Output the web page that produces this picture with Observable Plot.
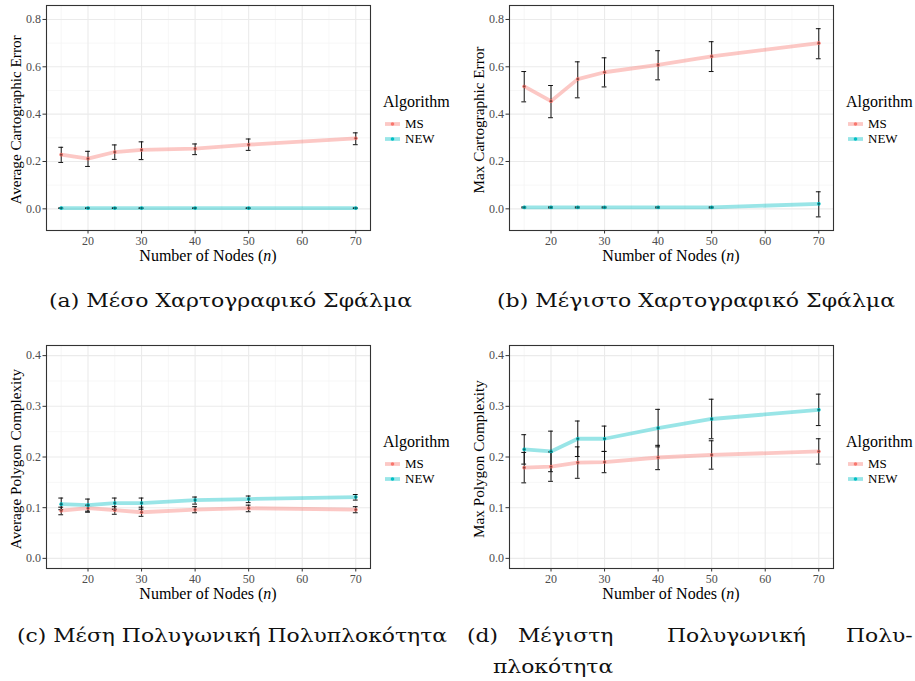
<!DOCTYPE html>
<html><head><meta charset="utf-8">
<script src="https://cdn.jsdelivr.net/npm/d3@7"></script>
<script src="https://cdn.jsdelivr.net/npm/@observablehq/plot@0.6"></script>
<style>
body{margin:0;background:#fff;}
#root{position:relative;width:915px;height:681px;overflow:hidden;}
.abs{position:absolute;white-space:nowrap;}
.cap{font-family:"DejaVu Serif",serif;font-size:18px;line-height:22px;color:#111;transform-origin:0 50%;}
.ttl{font-family:"Liberation Serif",serif;line-height:18px;color:#000;}
.lg{font-family:"Liberation Serif",serif;color:#000;}
svg{overflow:visible;}
</style></head><body><div id="root"></div><script>
// ---- data ----
const nodes = [15, 20, 25, 30, 40, 50, 70];
const algorithms = ["MS", "NEW"];
const algColors = ["#F8766D", "#00BFC4"];
const xTicks = [20, 30, 40, 50, 60, 70];
const xMinor = [15, 25, 35, 45, 55, 65];

// (a) Average Cartographic Error
const aMS    = [0.229, 0.212, 0.240, 0.249, 0.254, 0.271, 0.298];
const aMSlo  = [0.196, 0.179, 0.209, 0.208, 0.229, 0.247, 0.271];
const aMShi  = [0.260, 0.243, 0.270, 0.283, 0.274, 0.295, 0.321];
const aNEW   = [0.003, 0.003, 0.003, 0.003, 0.003, 0.003, 0.003];
const aNEWlo = [0.002, 0.002, 0.002, 0.002, 0.002, 0.002, 0.002];
const aNEWhi = [0.004, 0.004, 0.004, 0.004, 0.004, 0.004, 0.004];
// (b) Max Cartographic Error
const bMS    = [0.517, 0.455, 0.548, 0.577, 0.608, 0.644, 0.700];
const bMSlo  = [0.452, 0.385, 0.469, 0.515, 0.545, 0.580, 0.634];
const bMShi  = [0.580, 0.521, 0.621, 0.638, 0.668, 0.706, 0.761];
const bNEW   = [0.006, 0.006, 0.006, 0.006, 0.006, 0.006, 0.021];
const bNEWlo = [0.004, 0.004, 0.004, 0.004, 0.004, 0.004, -0.034];
const bNEWhi = [0.008, 0.008, 0.008, 0.008, 0.008, 0.008, 0.072];
// (c) Average Polygon Complexity
const cMS    = [0.094, 0.099, 0.095, 0.091, 0.096, 0.099, 0.096];
const cMSlo  = [0.086, 0.091, 0.087, 0.083, 0.090, 0.092, 0.090];
const cMShi  = [0.101, 0.105, 0.102, 0.101, 0.102, 0.105, 0.102];
const cNEW   = [0.107, 0.105, 0.109, 0.109, 0.115, 0.117, 0.121];
const cNEWlo = [0.096, 0.093, 0.097, 0.097, 0.107, 0.110, 0.115];
const cNEWhi = [0.119, 0.117, 0.119, 0.119, 0.121, 0.123, 0.126];
// (d) Max Polygon Complexity
const dMS    = [0.179, 0.181, 0.189, 0.190, 0.199, 0.204, 0.211];
const dMSlo  = [0.149, 0.152, 0.158, 0.169, 0.175, 0.176, 0.186];
const dMShi  = [0.209, 0.210, 0.220, 0.211, 0.223, 0.232, 0.236];
const dNEW   = [0.215, 0.211, 0.236, 0.236, 0.257, 0.275, 0.293];
const dNEWlo = [0.186, 0.171, 0.201, 0.211, 0.220, 0.236, 0.262];
const dNEWhi = [0.244, 0.251, 0.271, 0.261, 0.294, 0.314, 0.324];

const yTicksErr = [0, 0.2, 0.4, 0.6, 0.8];
const yMinorErr = [0.1, 0.3, 0.5, 0.7];
const yTicksCx = [0, 0.1, 0.2, 0.3, 0.4];
const yMinorCx = [0.05, 0.15, 0.25, 0.35];

const yTitles = ["Average Cartographic Error", "Max Cartographic Error", "Average Polygon Complexity", "Max Polygon Complexity"];
const captions = ["(a)  Μέσο Χαρτογραφικό Σφάλμα", "(b)  Μέγιστο Χαρτογραφικό Σφάλμα", "(c)  Μέση Πολυγωνική Πολυπλοκότητα"];
const captionD = ["(d)", "Μέγιστη", "Πολυγωνική", "Πολυ-", "πλοκότητα"];
const legendTitle = "Algorithm";

function rows(ms, msLo, msHi, nw, nwLo, nwHi) {
  const out = [];
  nodes.forEach((n, i) => out.push({n, alg: "MS", v: ms[i], lo: msLo[i], hi: msHi[i]}));
  nodes.forEach((n, i) => out.push({n, alg: "NEW", v: nw[i], lo: nwLo[i], hi: nwHi[i]}));
  return out;
}

const root = document.getElementById("root");
function addDiv(cls, html, css) {
  const d = document.createElement("div");
  d.className = "abs " + cls;
  d.innerHTML = html;
  Object.assign(d.style, css);
  root.appendChild(d);
  return d;
}

function panel(p) {
  const mL = 50, mR = 10, mT = 5, mB = 24;
  const data = rows(...p.series);
  const cap = 0.45;
  const chart = Plot.plot({
    width: (p.R - p.L) + mL + mR,
    height: (p.B - p.T) + mT + mB,
    marginLeft: mL, marginRight: mR, marginTop: mT, marginBottom: mB,
    style: {fontFamily: "'Liberation Serif', serif", fontSize: "12px", background: "transparent", overflow: "visible"},
    x: {domain: [12.25, 72.75]},
    y: {domain: p.yDomain},
    color: {domain: algorithms, range: algColors},
    marks: [
      Plot.gridX(xMinor, {stroke: "#F4F4F4", strokeOpacity: 1, strokeWidth: 0.7}),
      Plot.gridY(p.yMinor, {stroke: "#F4F4F4", strokeOpacity: 1, strokeWidth: 0.7}),
      Plot.gridX(xTicks, {stroke: "#EBEBEB", strokeOpacity: 1, strokeWidth: 1.1}),
      Plot.gridY(p.yTicks, {stroke: "#EBEBEB", strokeOpacity: 1, strokeWidth: 1.1}),
      Plot.line(data, {x: "n", y: "v", z: "alg", stroke: "alg", strokeWidth: 3.8, strokeOpacity: 0.4}),
      Plot.ruleX(data, {x: "n", y1: "lo", y2: "hi", stroke: "#111", strokeWidth: 1}),
      Plot.ruleY(data, {y: "lo", x1: d => d.n - cap, x2: d => d.n + cap, stroke: "#111", strokeWidth: 1}),
      Plot.ruleY(data, {y: "hi", x1: d => d.n - cap, x2: d => d.n + cap, stroke: "#111", strokeWidth: 1}),
      Plot.dot(data, {x: "n", y: "v", fill: "alg", r: 1.8}),
      Plot.dot(data, {x: "n", y: "v", fill: "#222", r: 1.1, fillOpacity: 0.6}),
      Plot.axisX({ticks: xTicks, tickSize: 3.5, tickPadding: 2, label: null, stroke: "#333", fill: "#4D4D4D"}),
      Plot.axisY({ticks: p.yTicks, tickSize: 3.5, tickPadding: 2, label: null, tickFormat: d3.format(".1f"), stroke: "#333", fill: "#4D4D4D"}),
      Plot.frame({stroke: "#333", strokeWidth: 1.1})
    ]
  });
  chart.style.position = "absolute";
  chart.style.left = (p.L - mL) + "px";
  chart.style.top = (p.T - mT) + "px";
  root.appendChild(chart);

  // axis titles
  const cx = (p.L + p.R) / 2;
  addDiv("ttl", "Number of Nodes (<i>n</i>)", {left: cx + "px", top: (p.B + 26) + "px", fontSize: "16px", transform: "translate(-50%,-50%)"});
  addDiv("ttl", p.yTitle, {left: (p.L - 30) + "px", top: ((p.T + p.B) / 2 + 2) + "px", fontSize: "15.2px", transform: "translate(-50%,-50%) rotate(-90deg)"});

  // legend
  const lx = p.R + 13, ly = p.T + 97;
  addDiv("lg", legendTitle, {left: lx + "px", top: (ly - 10) + "px", fontSize: "16px", lineHeight: "20px"});
  algorithms.forEach((a, i) => {
    const y = ly + 22 + i * 15;
    addDiv("lg", `<svg width="18" height="10"><line x1="1" x2="16" y1="5" y2="5" stroke="${algColors[i]}" stroke-opacity="0.4" stroke-width="3.8"/><circle cx="8.5" cy="5" r="1.8" fill="${algColors[i]}"/></svg>`,
      {left: (lx + 1) + "px", top: (y - 5) + "px", lineHeight: "10px", height: "10px"});
    addDiv("lg", a, {left: (lx + 22) + "px", top: (y - 8) + "px", fontSize: "13px", lineHeight: "16px"});
  });
}

panel({L: 46, R: 370, T: 5, B: 230, yDomain: [-0.0915, 0.859], yTicks: yTicksErr, yMinor: yMinorErr,
  series: [aMS, aMSlo, aMShi, aNEW, aNEWlo, aNEWhi], yTitle: yTitles[0]});
panel({L: 509, R: 833, T: 5, B: 230, yDomain: [-0.0915, 0.859], yTicks: yTicksErr, yMinor: yMinorErr,
  series: [bMS, bMSlo, bMShi, bNEW, bNEWlo, bNEWhi], yTitle: yTitles[1]});
panel({L: 46, R: 370, T: 345, B: 568, yDomain: [-0.02, 0.42], yTicks: yTicksCx, yMinor: yMinorCx,
  series: [cMS, cMSlo, cMShi, cNEW, cNEWlo, cNEWhi], yTitle: yTitles[2]});
panel({L: 509, R: 833, T: 345, B: 568, yDomain: [-0.02, 0.42], yTicks: yTicksCx, yMinor: yMinorCx,
  series: [dMS, dMSlo, dMShi, dNEW, dNEWlo, dNEWhi], yTitle: yTitles[3]});

// captions: stretch horizontally to the reference widths
function fit(el, target) {
  const w = el.getBoundingClientRect().width;
  const s = target / w;
  el.style.transform = `scaleX(${s})`;
  return s;
}
const capA = addDiv("cap", captions[0], {left: "49px", top: "290px"});
fit(capA, 363);
const capB = addDiv("cap", captions[1], {left: "497px", top: "290px"});
fit(capB, 398);
const capC = addDiv("cap", captions[2], {left: "17px", top: "625px"});
const sC = fit(capC, 430);
const dPos = [[467, 625], [518, 625], [667, 625], [850, 625], [493, 656]];
captionD.forEach((w, i) => {
  const el = addDiv("cap", w, {left: dPos[i][0] + "px", top: dPos[i][1] + "px", transform: `scaleX(${sC})`});
  if (i === 3) {
    const r = el.getBoundingClientRect().right;
    if (r > 913) el.style.left = (dPos[i][0] - (r - 913)) + "px";
  }
});
</script></body></html>
